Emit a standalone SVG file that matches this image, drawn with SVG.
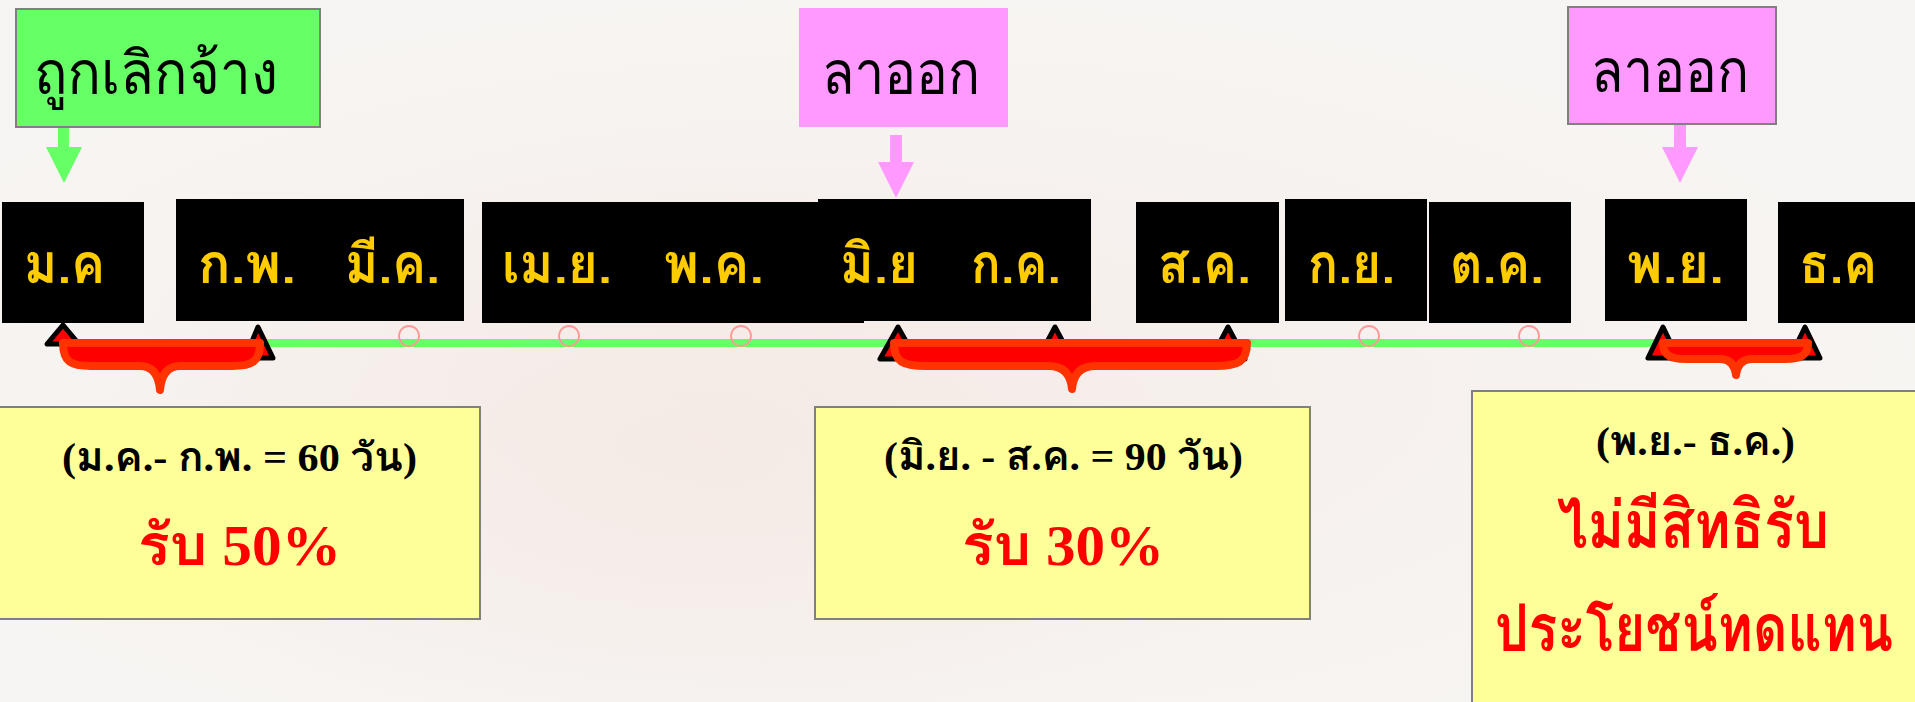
<svg xmlns="http://www.w3.org/2000/svg" width="1915" height="702" viewBox="0 0 1915 702">
<defs>
<radialGradient id="bg1" cx="0.45" cy="0.55" r="0.6">
<stop offset="0" stop-color="#F6EEEA"/>
<stop offset="1" stop-color="#F7F5F3"/>
</radialGradient>
<radialGradient id="bg2" cx="0.5" cy="0.5" r="0.5">
<stop offset="0" stop-color="#F4E9E4" stop-opacity="0.8"/>
<stop offset="1" stop-color="#F4E9E4" stop-opacity="0"/>
</radialGradient>
<style>
.thai{font-family:"Loma","Garuda","Noto Sans Thai","Noto Sans Thai Looped","DejaVu Sans",sans-serif}
.mon{font-size:55px;font-weight:bold;fill:#FFCC00}
.mbox{fill:#000000}
.top{font-size:60px;fill:#000000}
.sub{font-family:"Liberation Serif","Loma","Noto Serif Thai","Noto Sans Thai",serif;font-weight:bold;font-size:40px;fill:#000000}
.big{font-family:"Liberation Serif","Loma","Noto Serif Thai","Noto Sans Thai",serif;font-weight:bold;font-size:58px;fill:#FF0000}
.big2{font-family:"Loma","Noto Serif Thai","Noto Sans Thai",serif;font-weight:bold;font-size:66px;fill:#FF0000}
.ybox{fill:#FFFF99;stroke:#808080;stroke-width:2}
.brace{fill:#FF0000;stroke:#FF3300;stroke-width:8;stroke-linejoin:round}
.tri{fill:#FF0000;stroke:#000000;stroke-width:5;stroke-linejoin:round}
.dot{fill:none;stroke:#FF9999;stroke-width:1.8}
</style>
</defs>
<rect x="0" y="0" width="1915" height="702" fill="url(#bg1)"/>
<ellipse cx="700" cy="450" rx="600" ry="300" fill="url(#bg2)"/>

<g id="connectors">
<line x1="63" y1="343" x2="1663" y2="343" stroke="#66FF66" stroke-width="8"/>
<g id="ticks">
<circle class="dot" cx="409" cy="336" r="10"/>
<circle class="dot" cx="569" cy="336" r="10"/>
<circle class="dot" cx="741" cy="336" r="10"/>
<circle class="dot" cx="1369" cy="336" r="10"/>
<circle class="dot" cx="1529" cy="336" r="10"/>
<polygon class="tri" points="63,325 47,344 79,344"/>
<polygon class="tri" points="258,327 245,358 273,358"/>
<polygon class="tri" points="898,327 880,359 916,359"/>
<polygon class="tri" points="1055,327 1038,359 1072,359"/>
<polygon class="tri" points="1228,327 1211,359 1245,359"/>
<polygon class="tri" points="1663,327 1648,358 1678,358"/>
<polygon class="tri" points="1805,327 1790,358 1820,358"/>
</g>
<path id="arrow-terminated" d="M58,127 H69 V147 H82 L64,183 L46,147 H58 Z" fill="#66FF66"/>
<path id="arrow-resign1" d="M890,135 H902 V162 H914 L896,198 L878,162 H890 Z" fill="#FF99FF"/>
<path id="arrow-resign2" d="M1674,124 H1686 V147 H1698 L1680,183 L1662,147 H1674 Z" fill="#FF99FF"/>
<path id="brace1" class="brace" d="M63,343 H260 C260,362 252,366 232,366 H180 Q162,366 160,390 Q158,366 140,366 H91 C71,366 63,362 63,343 Z"/>
<path id="brace2" class="brace" d="M894,343 H1247 C1247,362 1238,366 1215,366 H1095 Q1074,366 1072,389 Q1070,366 1049,366 H926 C903,366 894,362 894,343 Z"/>
<path id="brace3" class="brace" d="M1663,343 H1808 C1808,356 1800,359 1785,359 H1752 Q1738,359 1736,375 Q1734,359 1720,359 H1686 C1671,359 1663,356 1663,343 Z"/>
</g>

<g id="n-terminated">
<rect x="16" y="9" width="304" height="118" fill="#66FF66" stroke="#808080" stroke-width="2"/>
<text class="thai top" x="34" y="94" textLength="244" lengthAdjust="spacingAndGlyphs">ถูกเลิกจ้าง</text>
</g>
<g id="n-resign1">
<rect x="799" y="8" width="209" height="119" fill="#FF99FF"/>
<text class="thai top" x="822" y="94" textLength="158" lengthAdjust="spacingAndGlyphs">ลาออก</text>
</g>
<g id="n-resign2">
<rect x="1568" y="7" width="208" height="117" fill="#FF99FF" stroke="#808080" stroke-width="2"/>
<text class="thai top" x="1591" y="92" textLength="158" lengthAdjust="spacingAndGlyphs">ลาออก</text>
</g>

<g id="n-jan">
<rect class="mbox" x="2" y="202" width="142" height="121"/>
<text class="thai mon" x="24" y="283" textLength="81" lengthAdjust="spacingAndGlyphs">ม.ค</text>
</g>
<g id="n-feb-mar">
<rect class="mbox" x="176" y="199" width="288" height="122"/>
<text class="thai mon" x="198" y="283" textLength="98" lengthAdjust="spacingAndGlyphs">ก.พ.</text>
<text class="thai mon" x="345" y="283" textLength="95" lengthAdjust="spacingAndGlyphs">มี.ค.</text>
</g>
<g id="n-apr-may">
<rect class="mbox" x="482" y="202" width="382" height="121"/>
<text class="thai mon" x="502" y="283" textLength="110" lengthAdjust="spacingAndGlyphs">เม.ย.</text>
<text class="thai mon" x="664" y="283" textLength="100" lengthAdjust="spacingAndGlyphs">พ.ค.</text>
</g>
<g id="n-jun-jul">
<rect class="mbox" x="818" y="199" width="273" height="122"/>
<text class="thai mon" x="840" y="283" textLength="78" lengthAdjust="spacingAndGlyphs">มิ.ย</text>
<text class="thai mon" x="971" y="283" textLength="90" lengthAdjust="spacingAndGlyphs">ก.ค.</text>
</g>
<g id="n-aug">
<rect class="mbox" x="1136" y="202" width="143" height="121"/>
<text class="thai mon" x="1158" y="283" textLength="93" lengthAdjust="spacingAndGlyphs">ส.ค.</text>
</g>
<g id="n-sep">
<rect class="mbox" x="1285" y="199" width="142" height="122"/>
<text class="thai mon" x="1308" y="283" textLength="87" lengthAdjust="spacingAndGlyphs">ก.ย.</text>
</g>
<g id="n-oct">
<rect class="mbox" x="1429" y="202" width="142" height="121"/>
<text class="thai mon" x="1450" y="283" textLength="94" lengthAdjust="spacingAndGlyphs">ต.ค.</text>
</g>
<g id="n-nov">
<rect class="mbox" x="1605" y="199" width="142" height="122"/>
<text class="thai mon" x="1627" y="283" textLength="97" lengthAdjust="spacingAndGlyphs">พ.ย.</text>
</g>
<g id="n-dec">
<rect class="mbox" x="1778" y="202" width="137" height="121"/>
<text class="thai mon" x="1799" y="283" textLength="78" lengthAdjust="spacingAndGlyphs">ธ.ค</text>
</g>

<g id="n-result1">
<rect class="ybox" x="-2" y="407" width="482" height="212"/>
<text class="sub" x="62" y="471" textLength="355" lengthAdjust="spacingAndGlyphs">(ม.ค.- ก.พ. = 60 วัน)</text>
<text class="big" x="138" y="565" textLength="203" lengthAdjust="spacingAndGlyphs">รับ  50%</text>
</g>
<g id="n-result2">
<rect class="ybox" x="815" y="407" width="495" height="212"/>
<text class="sub" x="884" y="470" textLength="359" lengthAdjust="spacingAndGlyphs">(มิ.ย. - ส.ค. = 90 วัน)</text>
<text class="big" x="962" y="565" textLength="202" lengthAdjust="spacingAndGlyphs">รับ  30%</text>
</g>
<g id="n-result3">
<rect class="ybox" x="1472" y="391" width="450" height="320"/>
<text class="sub" x="1596" y="455" textLength="199" lengthAdjust="spacingAndGlyphs">(พ.ย.- ธ.ค.)</text>
<text class="big2" x="1557" y="548" textLength="272" lengthAdjust="spacingAndGlyphs">ไม่มีสิทธิรับ</text>
<text class="big2" x="1495" y="651" textLength="398" lengthAdjust="spacingAndGlyphs">ประโยชน์ทดแทน</text>
</g>
</svg>
